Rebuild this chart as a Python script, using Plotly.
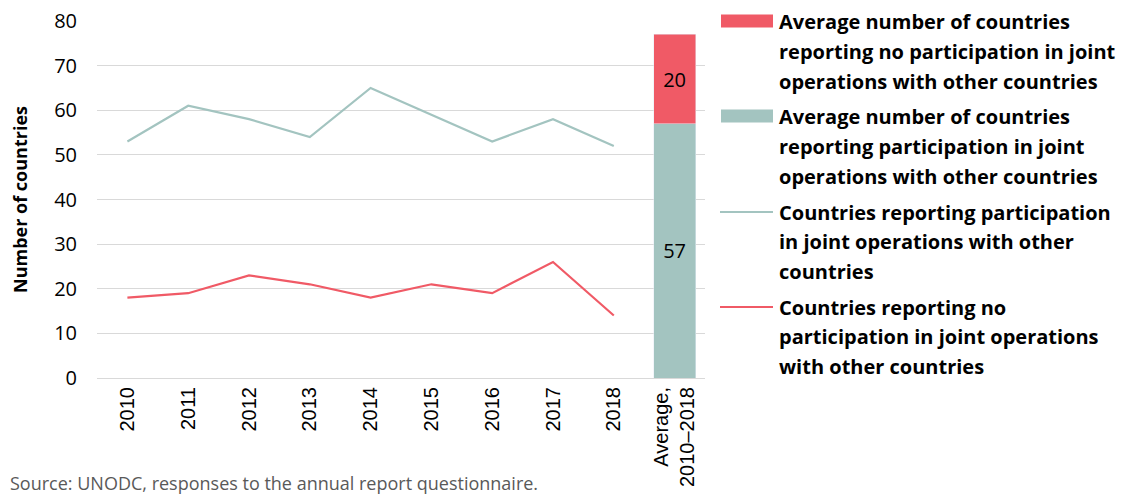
import plotly.graph_objects as go

years = ["2010", "2011", "2012", "2013", "2014", "2015", "2016", "2017", "2018"]
avg_label = "Average,<br>2010–2018"
participation = [53, 61, 58, 54, 65, 59, 53, 58, 52]
no_participation = [18, 19, 23, 21, 18, 21, 19, 26, 14]
avg_participation = 57
avg_no_participation = 20

RED = "#F05A66"
TEAL = "#A3C4C0"
FONT = "Open Sans"

legend_items = [
    ("bar", RED, ["Average number of countries", "reporting no participation in joint",
                  "operations with other countries"]),
    ("bar", TEAL, ["Average number of countries", "reporting participation in joint",
                   "operations with other countries"]),
    ("line", TEAL, ["Countries reporting participation", "in joint operations with other",
                    "countries"]),
    ("line", RED, ["Countries reporting no", "participation in joint operations",
                   "with other countries"]),
]

# plot area in page pixels; the page body adds an 8px margin around the figure
OFF = 8
W, H = 1126 - OFF, 495 - OFF
L, R, T, B = 97, 705, 21, 378


def px(x):
    return (x - L) / (R - L)


def py(y):
    return 1 - (y - T) / (B - T)


fig = go.Figure()
fig.add_trace(go.Bar(x=[avg_label], y=[avg_participation], marker_color=TEAL,
                     text=[avg_participation], textposition="inside", insidetextanchor="middle",
                     textfont=dict(size=20, color="black", family=FONT), width=0.69))
fig.add_trace(go.Bar(x=[avg_label], y=[avg_no_participation], marker_color=RED,
                     text=[avg_no_participation], textposition="inside", insidetextanchor="middle",
                     textfont=dict(size=20, color="black", family=FONT), width=0.69))
fig.add_trace(go.Scatter(x=years, y=participation, mode="lines", line=dict(color=TEAL, width=2.2)))
fig.add_trace(go.Scatter(x=years, y=no_participation, mode="lines", line=dict(color=RED, width=2.2)))

# legend on the right
for i, (kind, color, lines) in enumerate(legend_items):
    yc = 21 + i * 95
    if kind == "bar":
        fig.add_shape(type="rect", xref="paper", yref="paper",
                      x0=px(721), x1=px(773), y0=py(yc - 6.5), y1=py(yc + 6.5),
                      fillcolor=color, line_width=0)
    else:
        fig.add_shape(type="line", xref="paper", yref="paper",
                      x0=px(720), x1=px(773), y0=py(yc + 1), y1=py(yc + 1),
                      line=dict(color=color, width=2.2))
    for j, line in enumerate(lines):
        fig.add_annotation(xref="paper", yref="paper", x=px(777), y=py(yc + j * 29.5 + 1),
                           xanchor="left", yanchor="middle", showarrow=False,
                           text="<b>" + line + "</b>",
                           font=dict(size=20, color="black", family=FONT))

fig.add_annotation(xref="paper", yref="paper", x=px(OFF), y=py(469),
                   xanchor="left", yanchor="top", showarrow=False,
                   text="Source: UNODC, responses to the annual report questionnaire.",
                   font=dict(size=18, color="#595959", family=FONT))

fig.update_layout(
    width=W, height=H,
    margin=dict(l=L - OFF, r=W - (R - OFF), t=T - OFF, b=H - (B - OFF), autoexpand=False),
    barmode="stack", showlegend=False,
    plot_bgcolor="white", paper_bgcolor="white",
    font=dict(family=FONT, color="black"),
)
fig.update_xaxes(type="category", categoryorder="array", categoryarray=years + [avg_label],
                 range=[-0.5, 9.5], tickangle=-90, tickfont=dict(size=20, family="Liberation Sans"),
                 showline=True, linecolor="#d9d9d9", linewidth=1, showgrid=False, ticks="",
                 automargin=False, ticklabeloverflow="allow")
fig.update_yaxes(range=[0, 80], dtick=10, tickfont=dict(size=20, family=FONT),
                 showgrid=True, gridcolor="#d9d9d9", gridwidth=1, zeroline=False,
                 ticklabelstandoff=19, automargin=False, ticklabeloverflow="allow",
                 title=dict(text="<b>Number of countries</b>", font=dict(size=18, family=FONT),
                            standoff=26))

fig.write_html("out.html")
